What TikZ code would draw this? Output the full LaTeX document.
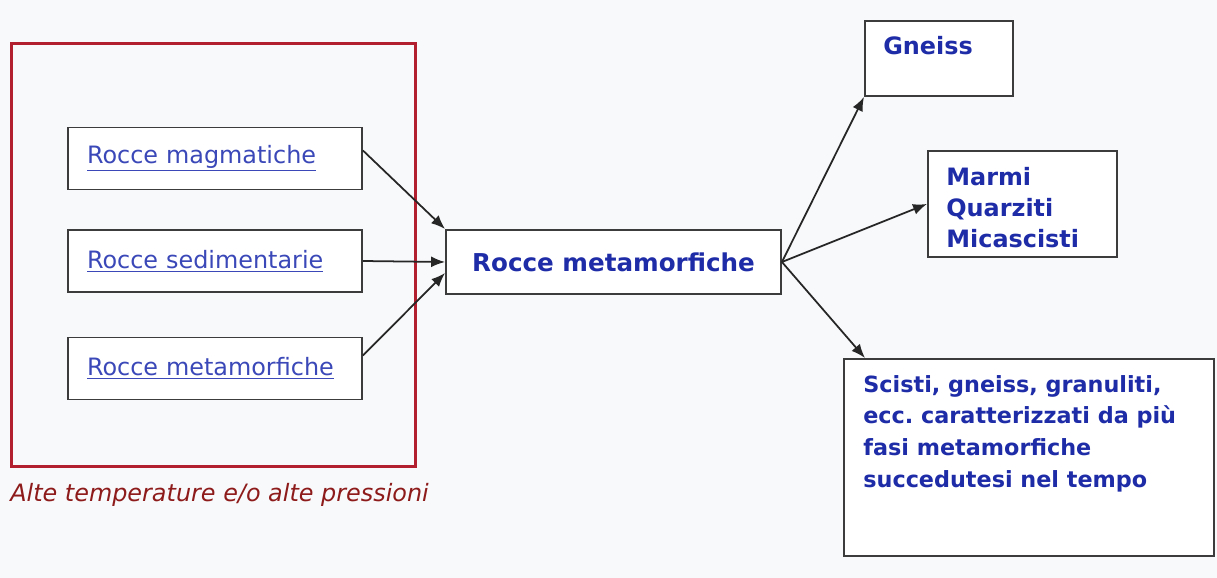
\documentclass[tikz,border=0pt]{standalone}
\usepackage{fontspec}
\setmainfont{DejaVu Sans}
\usepackage{xcolor}
\usetikzlibrary{arrows.meta,positioning}
\definecolor{linkblue}{HTML}{3A48B8}
\definecolor{rockblue}{HTML}{1E2CA8}
\definecolor{framered}{HTML}{B22030}
\definecolor{captionred}{HTML}{8E1B1B}
\definecolor{edgegray}{HTML}{3C3C3C}
\definecolor{pagetint}{HTML}{F8F9FA}
\frenchspacing

\begin{document}
\begin{tikzpicture}[
  x=0.02cm,y=-0.02cm,
  >={Latex[length=2.8mm,width=2.2mm]},
  rockbox/.style={draw=edgegray,line width=1.1pt,fill=white,inner sep=0pt},
  sourcebox/.style={rockbox,minimum width=5.88cm,minimum height=1.24cm,text width=5.12cm,
    align=left,text=linkblue,font=\fontsize{13.6}{16}\selectfont},
  outbox/.style={rockbox,anchor=north west},
  outtext/.style={inner sep=0pt,anchor=north west,align=left,text=rockblue},
  flow/.style={->,line width=1pt,black!85}
]
  \useasboundingbox[fill=pagetint] (0,0) rectangle (1217,578);

  \node[draw=framered,line width=1.7pt,anchor=north west,inner sep=0pt,
    minimum width=8.08cm,minimum height=8.46cm] (frame) at (10,42) {};
  \node[anchor=base west,inner sep=0pt,text=captionred,
    font=\itshape\fontsize{13.6}{16}\selectfont] (caption)
    at ([yshift=-0.68cm]frame.south west) {Alte temperature e/o alte pressioni};

  \node[sourcebox] (magm) at (215,158.5) {\underline{Rocce magmatiche}};
  \node[sourcebox] (sedim) at (215,261) {\underline{Rocce sedimentarie}};
  \node[sourcebox] (metain) at (215,368.5) {\underline{Rocce metamorfiche}};

  \node[rockbox,minimum width=6.7cm,minimum height=1.28cm,text=rockblue,
    font=\bfseries\fontsize{14}{17}\selectfont] (meta) at (613.5,262) {Rocce metamorfiche};

  \node[outbox,minimum width=2.96cm,minimum height=1.5cm] (gneiss) at (864,20) {};
  \node[outtext,font=\bfseries\fontsize{13.6}{17.6}\selectfont] (gneisstext) at (883,36) {Gneiss};

  \node[outbox,minimum width=3.78cm,minimum height=2.12cm] (marmi) at (927,150) {};
  \node[outtext,font=\bfseries\fontsize{13.6}{17.6}\selectfont] (marmitext) at (946,167)
    {Marmi\\Quarziti\\Micascisti};

  \node[outbox,minimum width=7.4cm,minimum height=3.94cm] (scisti) at (843,358) {};
  \node[outtext,font=\bfseries\fontsize{12.7}{18}\selectfont] (scistitext) at (863,375)
    {Scisti, gneiss, granuliti,\\ecc. caratterizzati da più\\fasi metamorfiche\\succedutesi nel tempo};

  \draw[flow] ([yshift=0.16cm]magm.east) -- (meta.north west);
  \draw[flow] (sedim.east) -- (meta.west);
  \draw[flow] ([yshift=0.26cm]metain.east) -- ([yshift=-0.22cm]meta.west);

  \draw[flow] (meta.east) -- (gneiss.south west);
  \draw[flow] (meta.east) -- (marmi.west);
  \draw[flow] (meta.east) -- ([xshift=0.44cm]scisti.north west);
\end{tikzpicture}
\end{document}
